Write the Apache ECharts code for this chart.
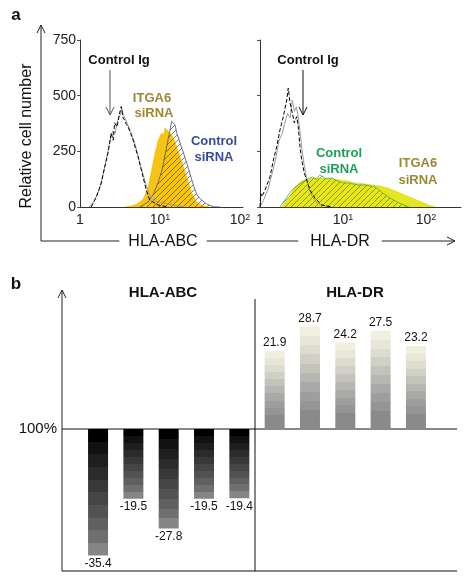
<!DOCTYPE html>
<html><head><meta charset="utf-8">
<script src="https://cdn.jsdelivr.net/npm/echarts@6/dist/echarts.min.js"></script>
<style>html,body{margin:0;padding:0;background:#fff}#c{width:472px;height:586px}</style>
</head><body><div id="c"></div>
<script>
// ---------- Panel a: flow cytometry histograms ([fluorescence, cell count]) ----------
const abcCtrlIgBlack = [[1.38,0],[1.6,46],[1.85,108],[2.04,181],[2.24,243],[2.46,333],[2.6,300],[2.71,378],[2.9,360],[3.13,423],[3.28,451],[3.45,400],[3.62,391],[3.8,370],[3.98,361],[4.3,330],[4.6,301],[5.31,226],[6.13,136],[6.74,76],[7.43,31],[9.44,9],[12.6,0]];
const abcCtrlIgGray = [[1.3,0],[1.5,25],[1.75,80],[1.95,150],[2.15,220],[2.35,290],[2.55,340],[2.75,330],[2.95,390],[3.15,410],[3.35,440],[3.5,410],[3.7,395],[3.9,375],[4.2,345],[4.5,320],[4.9,280],[5.5,210],[6.2,140],[6.9,85],[7.6,45],[8.5,28],[10,20],[13,12],[16,5],[20,0]];
const abcItga6 = [[3.7,0],[4.4,5],[5.11,12],[6.17,35],[7.14,91],[7.87,166],[8.66,243],[9.52,301],[10.5,333],[11.0,320],[11.55,355],[12.1,361],[12.6,340],[13.3,333],[14.2,320],[15.4,292],[17.8,226],[21.6,136],[24.9,63],[28.7,22],[34.5,4],[42,0]];
const abcCtrlSi = [[5.62,0],[7.08,22],[8.18,54],[9.44,108],[10.6,166],[11.9,256],[12.96,324],[14.0,384],[14.7,392],[15.4,370],[16.2,333],[17.8,288],[19.5,247],[22.6,175],[26.1,99],[29,54],[33.2,31],[38.4,13],[46.4,1],[56,0]];

const drCtrlIgBlack = [[1.0,0],[1.02,60],[1.05,46],[1.15,76],[1.32,136],[1.45,211],[1.59,271],[1.74,346],[1.91,406],[2.1,481],[2.19,534],[2.3,468],[2.45,423],[2.59,378],[2.77,406],[2.89,361],[3.03,271],[3.18,211],[3.42,152],[3.65,121],[4.0,76],[4.6,39],[5.54,9],[7.31,0]];
const drCtrlIgGray = [[1.0,0],[1.1,30],[1.25,80],[1.4,150],[1.55,220],[1.7,300],[1.85,330],[2.0,380],[2.15,420],[2.3,400],[2.45,480],[2.6,430],[2.75,450],[2.9,400],[3.05,330],[3.2,260],[3.4,190],[3.6,140],[3.85,90],[4.2,50],[4.8,20],[5.5,8],[7,0]];
const drItga6 = [[1.83,0],[2.2,40],[2.64,90],[3.0,110],[3.48,121],[4.2,128],[5.54,130],[7,126],[9.2,121],[11,118],[14,108],[18,104],[22.2,99],[28,94],[34.8,85],[44,70],[55.8,54],[70,38],[88.7,22],[105,10],[128,0]];
const drCtrlSi = [[1.74,0],[2.41,76],[3.48,121],[4.31,135],[4.8,125],[5.28,144],[6.2,128],[7.31,130],[8.5,118],[9.9,108],[11.5,108],[15.1,99],[18.9,99],[24.3,90],[30.1,63],[36.8,40],[47.3,18],[62.4,0]];

const yTicks = [0, 250, 500, 750];

// ---------- Panel b: change vs control (%) ----------
const samples = ['1','2','3','4','5'];
const abcChange = [-35.4, -19.5, -27.8, -19.5, -19.4];
const drChange = [21.9, 28.7, 24.2, 27.5, 23.2];

// ---------- styling helpers ----------
const FONT = 'Liberation Sans, Arial, sans-serif';
function hatch(color){
  const s = 6, c = document.createElement('canvas'); c.width = s; c.height = s;
  const g = c.getContext('2d');
  g.strokeStyle = color; g.lineWidth = 0.9;
  g.beginPath();
  g.moveTo(0, s); g.lineTo(s, 0);
  g.moveTo(-s, s); g.lineTo(s*0, 0); g.moveTo(0, 2*s); g.lineTo(2*s, 0);
  g.stroke();
  return c;
}
function stepGradient(bands){
  const stops = [], n = bands.length;
  bands.forEach((col, i) => { stops.push({offset: i/n, color: col}); stops.push({offset: (i+1)/n, color: col}); });
  return new echarts.graphic.LinearGradient(0, 0, 0, 1, stops);
}
const negBands = ['#000000','#111111','#1e1e1e','#2b2b2b','#383838','#454545','#525252','#606060','#6f6f6f','#858585'];
const posBands = ['#f0efe0','#e7e6d8','#dcdccf','#d0d0c6','#c3c3bc','#b6b6b2','#aaa9a8','#9f9e9e','#959595','#8a8a8a','#8a8a8a'];

const barData = abcChange.concat(drChange).map(v => ({
  value: v,
  itemStyle: {color: stepGradient(v < 0 ? negBands : posBands)},
  label: {position: v < 0 ? 'bottom' : 'top'}
}));
const barCats = samples.map(s => 'HLA-ABC ' + s).concat(samples.map(s => 'HLA-DR ' + s));

function logFmt(v){
  const l = Math.log10(v), r = Math.round(l);
  if (Math.abs(l - r) > 1e-6) return '';
  if (r === 0) return '1';
  return '10{s|' + r + '}';
}
function xAxisHist(gi, max){
  return {
    type: 'log', logBase: 10, gridIndex: gi, min: 1, max: max,
    axisLine: {lineStyle: {color: '#333', width: 1}},
    axisTick: {show: false}, splitLine: {show: false}, minorTick: {show: false},
    axisLabel: {formatter: logFmt, color: '#222', fontSize: 14, fontFamily: FONT, margin: 6,
      showMaxLabel: true, hideOverlap: false,
      rich: {s: {fontSize: 9, fontFamily: FONT, color: '#222', verticalAlign: 'top', padding: [0,0,6,0]}}}
  };
}
function yAxisHist(gi, labels){
  return {
    type: 'value', gridIndex: gi, min: yTicks[0], max: yTicks[yTicks.length-1], interval: yTicks[1]-yTicks[0],
    axisLine: {show: true, lineStyle: {color: '#333', width: 1}},
    axisTick: {show: true, length: 3, lineStyle: {color: '#555'}},
    splitLine: {show: false},
    axisLabel: {show: labels, color: '#222', fontSize: 14, fontFamily: FONT, margin: 4}
  };
}
function area(gi, data, fill, line, lw, type){
  return {type: 'line', xAxisIndex: gi, yAxisIndex: gi, data: data, symbol: 'none', smooth: false,
    lineStyle: {color: line, width: lw, type: type || 'solid'},
    areaStyle: fill ? {color: fill, opacity: 1} : undefined, silent: true};
}

const chart = echarts.init(document.getElementById('c'), null, {renderer: 'canvas'});
const txt = (x, y, t, o) => ({type: 'text', x: x, y: y, style: Object.assign({text: t, fontFamily: FONT, fontSize: 14, fill: '#111', align: 'center', verticalAlign: 'middle'}, o || {})});
const ln = (pts, color, w) => ({type: 'polyline', shape: {points: pts}, style: {stroke: color || '#222', lineWidth: w || 1, fill: null}});

chart.setOption({
  animation: false,
  backgroundColor: '#fff',
  grid: [
    {left: 80, top: 40, width: 163, height: 167},
    {left: 260, top: 40, width: 201, height: 167},
    {left: 80.4, top: 286, width: 353.2, height: 286}
  ],
  xAxis: [
    xAxisHist(0, Math.pow(10, 163/80)),
    xAxisHist(1, Math.pow(10, 201/83)),
    {type: 'category', gridIndex: 2, data: barCats, show: false}
  ],
  yAxis: [
    yAxisHist(0, true),
    yAxisHist(1, false),
    {type: 'value', gridIndex: 2, min: -40, max: 40, show: false}
  ],
  series: [
    area(0, abcItga6, '#f6c514', '#ecbc00', 0.6),
    area(0, abcCtrlSi, {image: hatch('rgba(55,60,85,0.75)'), repeat: 'repeat'}, '#4c5270', 0.8),
    area(0, abcCtrlIgGray, null, '#9a9a9a', 1),
    area(0, abcCtrlIgBlack, null, '#000', 1, [4, 2]),
    area(1, drItga6, '#e4e622', '#d8d810', 0.6),
    area(1, drCtrlSi, {image: hatch('rgba(95,110,40,0.75)'), repeat: 'repeat'}, '#4aa85a', 0.8),
    area(1, drCtrlIgGray, null, '#9a9a9a', 1),
    area(1, drCtrlIgBlack, null, '#000', 1, [4, 2]),
    {type: 'bar', xAxisIndex: 2, yAxisIndex: 2, data: barData, barWidth: 20, silent: true,
      label: {show: true, color: '#111', fontSize: 12, fontFamily: FONT, distance: 2, formatter: p => p.value.toFixed(1)}}
  ],
  graphic: [
    // panel a frame
    txt(16, 15, 'a', {fontWeight: 'bold', fontSize: 17}),
    ln([[41, 241], [41, 25]], '#222'),
    ln([[37, 33], [41, 25], [45, 33]], '#222'),
    ln([[41, 241], [455, 241]], '#222'),
    ln([[447, 237], [455, 241], [447, 245]], '#222'),
    txt(163, 242, 'HLA-ABC', {fontSize: 16, backgroundColor: '#fff', padding: [2, 9]}),
    txt(340, 242, 'HLA-DR', {fontSize: 16, backgroundColor: '#fff', padding: [2, 12]}),
    {type: 'text', x: 27, y: 136, rotation: Math.PI/2, style: {text: 'Relative cell number', fontFamily: FONT, fontSize: 16, fill: '#111', align: 'center', verticalAlign: 'middle'}},
    // annotations
    txt(119, 60, 'Control Ig', {fontWeight: 'bold', fontSize: 13}),
    ln([[110, 70], [110, 115]], '#555'),
    ln([[106, 107], [110, 115], [114, 107]], '#555'),
    txt(308, 60, 'Control Ig', {fontWeight: 'bold', fontSize: 13}),
    ln([[303, 70], [303, 115]], '#111'),
    ln([[299, 107], [303, 115], [307, 107]], '#111'),
    txt(152, 98, 'ITGA6', {fontWeight: 'bold', fontSize: 13, fill: '#9a8834'}),
    txt(154, 113, 'siRNA', {fontWeight: 'bold', fontSize: 13, fill: '#9a8834'}),
    txt(214, 141, 'Control', {fontWeight: 'bold', fontSize: 13, fill: '#3b4a96'}),
    txt(214, 157, 'siRNA', {fontWeight: 'bold', fontSize: 13, fill: '#3b4a96'}),
    txt(339, 153, 'Control', {fontWeight: 'bold', fontSize: 13, fill: '#1e9e58'}),
    txt(339, 169, 'siRNA', {fontWeight: 'bold', fontSize: 13, fill: '#1e9e58'}),
    txt(418, 163, 'ITGA6', {fontWeight: 'bold', fontSize: 13, fill: '#9a8834'}),
    txt(418, 180, 'siRNA', {fontWeight: 'bold', fontSize: 13, fill: '#9a8834'}),
    // panel b frame
    txt(16, 284, 'b', {fontWeight: 'bold', fontSize: 17}),
    ln([[62, 571], [62, 290]], '#222'),
    ln([[58, 298], [62, 290], [66, 298]], '#222'),
    ln([[62, 429], [457, 429]], '#111'),
    ln([[62, 571], [457, 571]], '#111'),
    ln([[255, 299], [255, 571]], '#111'),
    txt(57, 429, '100%', {fontSize: 15, align: 'right'}),
    txt(163, 293, 'HLA-ABC', {fontWeight: 'bold', fontSize: 15}),
    txt(355, 293, 'HLA-DR', {fontWeight: 'bold', fontSize: 15})
  ]
});
</script></body></html>
